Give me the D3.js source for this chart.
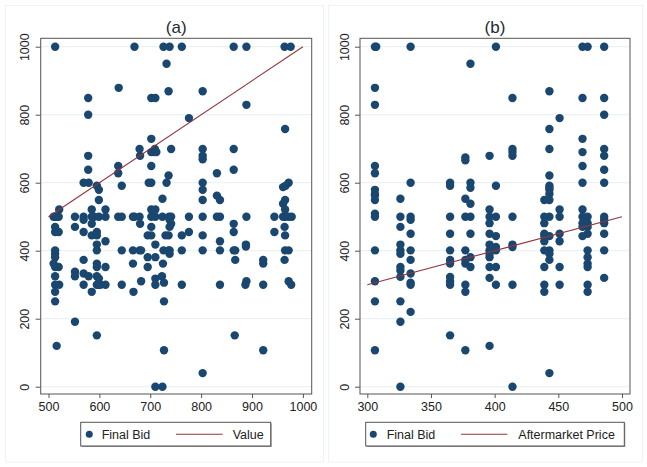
<!DOCTYPE html>
<html><head><meta charset="utf-8">
<script src="https://cdnjs.cloudflare.com/ajax/libs/d3/7.8.5/d3.min.js"></script>
<style>body{margin:0;background:#fff}svg{display:block}text{font-family:"Liberation Sans",Arial,sans-serif}</style>
</head><body><svg id="c" width="647" height="467"></svg>
<script>
// Panel (a): [value, final bid]
const valueBids = [
[513,1000],[669,1000],[726,1000],[738,1000],[762,1000],[864,1000],[889,1000],[964,1000],[976,1000],
[732,950],[638,879],[736,869],[803,869],[578,849],[702,849],[710,849],[889,829],[578,800],[776,790],
[965,758],[702,729],[679,699],[709,699],[741,699],[803,699],[864,699],[702,690],[707,690],[712,690],
[578,679],[680,679],[803,679],[803,669],[637,649],[702,649],[578,638],[864,638],[637,628],[831,628],
[736,621],[569,600],[579,600],[697,600],[702,600],[732,600],[803,600],[972,600],[595,591],[644,591],
[966,591],[961,587],[599,579],[803,579],[831,562],[724,553],[599,549],[803,549],[837,549],[965,549],
[961,538],[521,521],[585,521],[612,521],[702,521],[710,521],[965,521],
[510,500],[513,500],[516,500],[520,500],[552,500],[569,500],[585,500],[590,500],[599,500],[612,500],
[637,500],[644,500],[666,500],[669,500],[679,500],[702,500],[710,500],[724,500],[737,500],[741,500],
[776,500],[803,500],[831,500],[837,500],[889,500],[944,500],[961,500],[965,500],[972,500],[978,500],
[569,491],[738,491],[585,479],[680,479],[741,479],[864,479],[513,470],[552,470],[702,470],[738,470],[964,470],
[513,455],[520,455],[569,455],[595,455],[776,455],[864,455],[944,455],
[585,445],[595,445],[695,445],[702,445],[730,445],[736,445],[762,445],[803,445],[965,445],
[612,428],[837,428],[595,418],[710,418],[888,418],[888,412],
[513,401],[595,401],[644,401],[666,401],[679,401],[682,401],[726,401],[736,401],[738,401],[762,401],
[803,401],[837,401],[864,401],[867,401],[965,401],[972,401],
[513,391],[738,391],[513,381],[695,381],[710,381],[569,373],[867,373],[922,373],[964,373],
[510,362],[595,362],[666,362],[725,362],[922,362],[513,352],[520,352],[595,352],[612,352],[695,352],
[552,338],[569,333],[513,325],[552,325],[579,325],[595,325],[723,325],[599,318],[710,318],
[682,310],[889,310],[972,310],[727,306],
[513,300],[521,300],[569,300],[595,300],[599,300],[602,300],[612,300],[644,300],[710,300],[762,300],
[837,300],[887,300],[922,300],[977,300],
[513,279],[585,279],[667,279],[513,251],[727,251],[552,191],[595,151],[866,151],[516,120],
[727,107],[922,107],[803,40],[710,0],[724,0]
];
// Panel (b): [aftermarket price, final bid]
const priceBids = [
[306,1000],[307,1000],[334,1000],[401,1000],[469,1000],[473,1000],[486,1000],
[381,950],[306,879],[443,869],[414,849],[469,849],[486,849],[306,829],[486,800],[451,790],[443,758],
[469,729],[414,699],[443,699],[486,699],[414,690],[469,690],[396,679],[414,679],[486,679],[377,674],
[377,666],[306,649],[469,649],[486,638],[306,628],[443,621],
[334,600],[365,600],[381,600],[469,600],[486,600],[365,591],[401,591],[443,591],[381,585],[443,585],
[306,579],[443,579],[306,567],[443,567],[306,562],[326,553],[377,553],[306,549],[439,549],[443,549],
[381,538],[396,521],[451,521],[469,521],[306,509],
[306,500],[326,500],[334,500],[365,500],[377,500],[381,500],[396,500],[401,500],[414,500],[439,500],
[443,500],[451,500],[469,500],[473,500],[486,500],
[334,491],[486,491],[396,481],[439,481],[469,481],[473,481],[486,481],[326,470],[469,470],[473,470],
[334,450],[365,450],[381,450],[396,450],[439,450],[451,450],[473,450],[486,450],
[401,443],[439,443],[443,443],[469,443],[439,428],[451,428],[326,418],[396,418],[414,418],[401,411],[414,411],
[306,401],[326,401],[334,401],[365,401],[377,401],[396,401],[401,401],[439,401],[443,401],[473,401],[486,401],
[326,391],[396,391],[443,391],[381,381],[396,381],[473,381],[334,373],[365,373],[377,373],[443,373],
[365,362],[377,362],[473,362],[326,352],[381,352],[396,352],[401,352],[439,352],[451,352],[473,352],
[326,342],[334,333],[326,323],[365,323],[396,320],[486,320],[306,310],[365,310],[334,306],
[334,300],[365,300],[377,300],[401,300],[414,300],[439,300],[451,300],[473,300],
[377,279],[439,279],[473,279],[306,251],[326,251],[334,220],[326,191],[365,151],[396,120],
[306,107],[377,107],[443,40],[326,0],[414,0]
];
const valueLine = [500, 1000];
const priceLine = [300, 500];
const yTicks = [0, 200, 400, 600, 800, 1000];
const xTicksA = [500, 600, 700, 800, 900, 1000];
const xTicksB = [300, 350, 400, 450, 500];
const titles = ["(a)", "(b)"];
const legendLabels = [["Final Bid", "Value"], ["Final Bid", "Aftermarket Price"]];

const svg = d3.select("#c");
const dotColor = "#1a476f", lineColor = "#90353b", frameColor = "#555", gridColor = "#e6eff1";
const y = d3.scaleLinear().domain([0, 1000]).range([386.7, 46.7]);

const panels = [
  {data: valueBids, line: valueLine, xt: xTicksA, x: d3.scaleLinear().domain([500,1000]).range([48.5,302.9]),
   frame: [40.7, 311.7], outer: [5, 323], title: titles[0], leg: legendLabels[0],
   legBox: [80.7, 270.7], legDot: 89.3, legT1: 101.7, legLine: [176, 222.7], legT2: 232.7},
  {data: priceBids, line: priceLine, xt: xTicksB, x: d3.scaleLinear().domain([300,500]).range([367.3,622]),
   frame: [360, 630], outer: [328, 642], title: titles[1], leg: legendLabels[1],
   legBox: [365.7, 624.3], legDot: 373.3, legT1: 386.7, legLine: [461, 507.3], legT2: 518.3}
];

panels.forEach(p => {
  const g = svg.append("g");
  g.append("rect").attr("x", p.outer[0]+0.5).attr("y", 5.5).attr("width", p.outer[1]-p.outer[0])
    .attr("height", 456.5).attr("fill", "#fff").attr("stroke", "#eef3f4");
  g.append("text").attr("x", (p.frame[0]+p.frame[1])/2).attr("y", 32.5).attr("text-anchor", "middle")
    .attr("font-size", 17).attr("fill", "#1e2a36").text(p.title);
  // grid
  g.selectAll(".grid").data(yTicks).join("line")
    .attr("x1", p.frame[0]).attr("x2", p.frame[1]).attr("y1", d => y(d)).attr("y2", d => y(d))
    .attr("stroke", gridColor).attr("stroke-width", 1);
  // y axis
  const ya = g.append("g").attr("transform", `translate(${p.frame[0]},0)`)
    .call(d3.axisLeft(y).tickValues(yTicks).tickSize(5).tickFormat(d3.format("d")));
  ya.select(".domain").remove();
  ya.selectAll(".tick line").attr("stroke", frameColor);
  ya.selectAll(".tick text").attr("x", null).attr("dy", null).attr("text-anchor", "middle")
    .attr("transform", "translate(-11.5,0) rotate(-90)").attr("font-size", 12.5).attr("fill", "#222")
    .attr("font-family", "Liberation Sans, Arial, sans-serif");
  // x axis
  const xa = g.append("g").attr("transform", "translate(0,394)")
    .call(d3.axisBottom(p.x).tickValues(p.xt).tickSize(4).tickPadding(4).tickFormat(d3.format("d")));
  xa.select(".domain").remove();
  xa.selectAll(".tick line").attr("stroke", frameColor);
  xa.selectAll(".tick text").attr("font-size", 12.5).attr("fill", "#222")
    .attr("font-family", "Liberation Sans, Arial, sans-serif");
  // points
  g.append("g").selectAll("circle").data(p.data).join("circle")
    .attr("cx", d => p.x(d[0])).attr("cy", d => y(d[1])).attr("r", 4.2).attr("fill", dotColor);
  // 45-degree line
  g.append("line").attr("x1", p.x(p.line[0])).attr("y1", y(p.line[0]))
    .attr("x2", p.x(p.line[1])).attr("y2", y(p.line[1])).attr("stroke", lineColor).attr("stroke-width", 1.1);
  // frame
  g.append("rect").attr("x", p.frame[0]).attr("y", 38.3).attr("width", p.frame[1]-p.frame[0])
    .attr("height", 394-38.3).attr("fill", "none").attr("stroke", frameColor).attr("stroke-width", 1);
  // legend
  const lb = p.legBox;
  g.append("rect").attr("x", lb[0]+1).attr("y", 423.3).attr("width", lb[1]-lb[0]).attr("height", 23.7).attr("fill", "#999");
  g.append("rect").attr("x", lb[0]).attr("y", 422.3).attr("width", lb[1]-lb[0]).attr("height", 23.7)
    .attr("fill", "#fff").attr("stroke", "#555").attr("stroke-width", 1);
  g.append("circle").attr("cx", p.legDot).attr("cy", 434.3).attr("r", 3.5).attr("fill", dotColor);
  g.append("text").attr("x", p.legT1).attr("y", 438.8).attr("font-size", 12.5).attr("fill", "#222").text(p.leg[0]);
  g.append("line").attr("x1", p.legLine[0]).attr("x2", p.legLine[1]).attr("y1", 434.3).attr("y2", 434.3)
    .attr("stroke", lineColor).attr("stroke-width", 1.1);
  g.append("text").attr("x", p.legT2).attr("y", 438.8).attr("font-size", 12.5).attr("fill", "#222").text(p.leg[1]);
});
</script></body></html>
